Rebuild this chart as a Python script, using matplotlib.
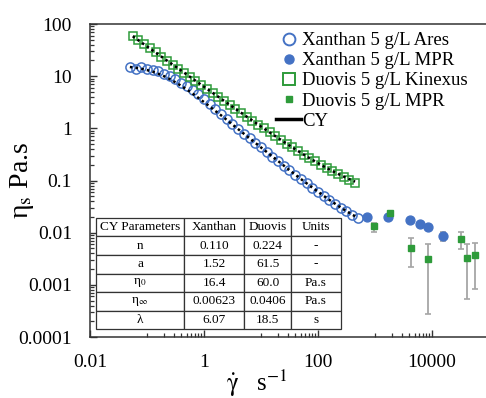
import matplotlib
matplotlib.use('Agg')
import matplotlib.pyplot as plt
from matplotlib.ticker import FixedLocator, FixedFormatter, NullFormatter
from matplotlib.lines import Line2D

plt.rcParams['font.family'] = ['Liberation Serif', 'DejaVu Serif']
plt.rcParams['mathtext.fontset'] = 'stix'

# ---------------- data ----------------
xan_ares_rate = [0.0501, 0.0631, 0.0794, 0.1, 0.126, 0.158, 0.200, 0.251, 0.316, 0.398,
                 0.501, 0.631, 0.794, 1.0, 1.26, 1.58, 2.00, 2.51, 3.16, 3.98,
                 5.01, 6.31, 7.94, 10.0, 12.6, 15.8, 20.0, 25.1, 31.6, 39.8,
                 50.1, 63.1, 79.4, 100, 126, 158, 200, 251, 316, 398, 501]
xan_ares_eta = [15.0, 13.8, 14.9, 14.0, 13.3, 12.4, 11.2, 9.9, 8.7, 7.5,
                6.4, 5.4, 4.5, 3.6, 2.9, 2.3, 1.85, 1.48, 1.19, 0.965,
                0.788, 0.644, 0.527, 0.430, 0.352, 0.288, 0.236, 0.193, 0.158, 0.130,
                0.107, 0.0885, 0.0733, 0.0609, 0.0507, 0.0425, 0.0358, 0.0303, 0.0258, 0.0222, 0.0195]
cy_xan_eta = [15.0, 14.5, 13.9, 13.1, 12.2, 11.1, 9.97, 8.79, 7.63, 6.53,
              5.52, 4.63, 3.85, 3.18, 2.62, 2.15, 1.77, 1.45, 1.18, 0.965,
              0.788, 0.644, 0.527, 0.430, 0.352, 0.288, 0.236, 0.193, 0.158, 0.130,
              0.107, 0.0885, 0.0733, 0.0609, 0.0507, 0.0425, 0.0358, 0.0303, 0.0258, 0.0222, 0.0192]

duo_kin_rate = [0.0562, 0.0708, 0.0891, 0.112, 0.141, 0.178, 0.224, 0.282, 0.355, 0.447,
                0.562, 0.708, 0.891, 1.12, 1.41, 1.78, 2.24, 2.82, 3.55, 4.47,
                5.62, 7.08, 8.91, 11.2, 14.1, 17.8, 22.4, 28.2, 35.5, 44.7,
                56.2, 70.8, 89.1, 112, 141, 178, 224, 282, 355, 447]
duo_kin_eta = [59.0, 48.6, 40.7, 34.0, 28.5, 23.8, 19.9, 16.7, 13.96, 11.69,
               9.78, 8.19, 6.85, 5.74, 4.81, 4.03, 3.37, 2.83, 2.37, 1.99,
               1.67, 1.41, 1.18, 0.996, 0.839, 0.709, 0.599, 0.508, 0.431, 0.367,
               0.314, 0.269, 0.232, 0.200, 0.174, 0.152, 0.134, 0.117, 0.103, 0.088]
cy_duo_eta = [58.2, 48.6, 40.7, 34.0, 28.5, 23.8, 19.9, 16.7, 13.96, 11.69,
              9.78, 8.19, 6.85, 5.74, 4.81, 4.03, 3.37, 2.83, 2.37, 1.99,
              1.67, 1.41, 1.18, 0.996, 0.839, 0.709, 0.599, 0.508, 0.431, 0.367,
              0.314, 0.269, 0.232, 0.200, 0.174, 0.152, 0.134, 0.119, 0.106, 0.095]

xan_mpr_rate = [724, 1700, 4100, 6150, 8500, 15600]
xan_mpr_eta = [0.0201, 0.0201, 0.0176, 0.0148, 0.0129, 0.0087]
xan_mpr_err_lo = [0.0, 0.0, 0.0, 0.0, 0.0, 0.0019]
xan_mpr_err_hi = [0.0, 0.0, 0.0, 0.0, 0.0, 0.0018]

duo_mpr_rate = [972, 1830, 4330, 8410, 32300, 41600, 57500]
duo_mpr_eta = [0.0135, 0.0237, 0.00519, 0.0031, 0.0077, 0.00333, 0.00376]
duo_mpr_err_lo = [0.0032, 0.0, 0.00295, 0.00283, 0.00287, 0.0028, 0.00293]
duo_mpr_err_hi = [0.0019, 0.0, 0.00266, 0.00293, 0.0028, 0.0027, 0.00254]

x_major_ticks = [0.01, 1, 100, 10000]
x_major_labels = ['0.01', '1', '100', '10000']
y_major_ticks = [0.0001, 0.001, 0.01, 0.1, 1, 10, 100]
y_major_labels = ['0.0001', '0.001', '0.01', '0.1', '1', '10', '100']

table_cols = ['CY Parameters', 'Xanthan', 'Duovis', 'Units']
table_rows = [['n', '0.110', '0.224', '-'],
              ['a', '1.52', '61.5', '-'],
              ['η$_0$', '16.4', '60.0', 'Pa.s'],
              ['η$_\\infty$', '0.00623', '0.0406', 'Pa.s'],
              ['λ', '6.07', '18.5', 's']]

labels = ['Xanthan 5 g/L Ares', 'Xanthan 5 g/L MPR', 'Duovis 5 g/L Kinexus',
          'Duovis 5 g/L MPR', 'CY']

# ---------------- figure ----------------
W, H = 486, 398
blue = '#4472C4'
green = '#2E9B3A'
grey = '#A6A6A6'

fig = plt.figure(figsize=(W / 100, H / 100), dpi=100)
ax = fig.add_axes([90 / W, (H - 337) / H, (489 - 90) / W, (337 - 24) / H])
ax.set_xscale('log')
ax.set_yscale('log')
ax.set_xlim(0.01, 1e5)
ax.set_ylim(1e-4, 100)

ax.plot(xan_ares_rate, xan_ares_eta, ls='none', marker='o', mfc='none', mec=blue,
        ms=6.6, mew=1.1, zorder=3)
ax.plot(duo_kin_rate, duo_kin_eta, ls='none', marker='s', mfc='none', mec=green,
        ms=6.0, mew=1.1, zorder=3)
ax.plot(xan_ares_rate, cy_xan_eta, color='k', lw=1.8, ls=(0, (1, 1.3)), zorder=4)
ax.plot(duo_kin_rate, cy_duo_eta, color='k', lw=1.8, ls=(0, (1, 1.3)), zorder=4)

ax.errorbar(xan_mpr_rate, xan_mpr_eta, yerr=[xan_mpr_err_lo, xan_mpr_err_hi],
            fmt='o', color=blue, ms=6.4, ecolor=grey, elinewidth=1.3, capsize=2.5,
            capthick=1.2, zorder=5)
ax.errorbar(duo_mpr_rate, duo_mpr_eta, yerr=[duo_mpr_err_lo, duo_mpr_err_hi],
            fmt='s', color=green, ms=5.0, ecolor=grey, elinewidth=1.3, capsize=2.5,
            capthick=1.2, zorder=6)

# spines and ticks
ax.spines['right'].set_visible(False)
for s in ['left', 'top', 'bottom']:
    ax.spines[s].set_color('#333333')
    ax.spines[s].set_linewidth(1.1)

ax.xaxis.set_major_locator(FixedLocator(x_major_ticks))
ax.xaxis.set_major_formatter(FixedFormatter(x_major_labels))
xminor = [k * 10.0 ** e for e in (-1, 1, 3, 5) for k in range(1, 10)]
ax.xaxis.set_minor_locator(FixedLocator(xminor))
ax.xaxis.set_minor_formatter(NullFormatter())
ax.yaxis.set_major_locator(FixedLocator(y_major_ticks))
ax.yaxis.set_major_formatter(FixedFormatter(y_major_labels))
yminor = [k * 10.0 ** e for e in range(-4, 2) for k in range(2, 10)]
ax.yaxis.set_minor_locator(FixedLocator(yminor))
ax.yaxis.set_minor_formatter(NullFormatter())

ax.tick_params(which='both', direction='in', top=False, right=False, color='#333333',
               labelsize=14)
ax.tick_params(which='major', length=5, width=1)
ax.tick_params(which='minor', length=3, width=0.9)
ax.tick_params(axis='x', which='both', pad=12)
ax.tick_params(axis='y', which='both', pad=13)

# axis labels
fig.text(22 / W, 1 - 180 / H, 'η$_{\\mathrm{s}}$ Pa.s', rotation=90, ha='center',
         va='center', fontsize=20)
fig.text(257 / W, 1 - 383 / H, '$\\dot{\\mathrm{\\gamma}}$   s$^{\\mathrm{-1}}$', ha='center',
         va='center', fontsize=18)

# legend
handles = [
    Line2D([], [], ls='none', marker='o', mfc='none', mec=blue, ms=8.5, mew=1.4),
    Line2D([], [], ls='none', marker='o', mfc=blue, mec=blue, ms=6.5),
    Line2D([], [], ls='none', marker='s', mfc='none', mec=green, ms=8, mew=1.4),
    Line2D([], [], ls='none', marker='s', mfc=green, mec=green, ms=5),
    Line2D([], [], color='k', lw=2.5),
]
fig.legend(handles, labels, loc='upper left', bbox_to_anchor=(276 / W, 1 - 32 / H),
           frameon=False, fontsize=13.5, handlelength=1.35, handletextpad=0.05,
           labelspacing=0.16, borderpad=0, borderaxespad=0)

# table
tx0, tx1, ty0, ty1 = 96, 341, 218, 329
axw, axh = 489 - 90, 337 - 24
bbox = [(tx0 - 90) / axw, (337 - ty1) / axh, (tx1 - tx0) / axw, (ty1 - ty0) / axh]
col_w = [88, 60, 47, 50]
tot = sum(col_w)
tbl = ax.table(cellText=table_rows, colLabels=table_cols, cellLoc='center',
               colWidths=[c / tot for c in col_w], bbox=bbox, zorder=10)
tbl.auto_set_font_size(False)
for (r, c), cell in tbl.get_celld().items():
    cell.set_edgecolor('#333333')
    cell.set_linewidth(0.9)
    cell.set_facecolor('white')
    cell.get_text().set_fontsize(9.5)
    cell.get_text().set_fontfamily(['Liberation Serif', 'DejaVu Serif'])

fig.savefig('out.png', dpi=100)
